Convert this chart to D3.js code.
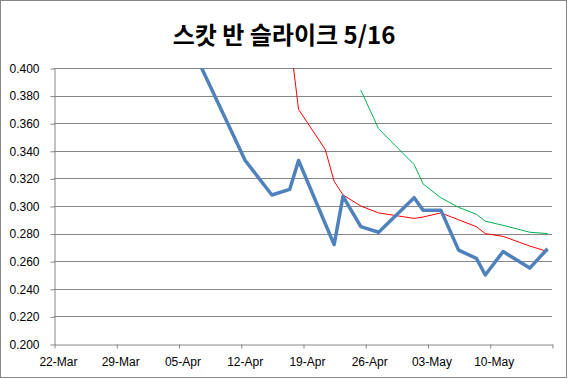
<!DOCTYPE html>
<html>
<head>
<meta charset="utf-8">
<script src="https://cdn.jsdelivr.net/npm/d3@7"></script>
<style>
  body { margin: 0; background: #fff; }
  text { font-family: "Liberation Sans", Arial, sans-serif; }
</style>
</head>
<body>
<svg id="chart" width="568" height="379"></svg>
<script>
// game dates (2016) and the three running averages
const dates = ["2016-04-06", "2016-04-12", "2016-04-15", "2016-04-17", "2016-04-18", "2016-04-21",
  "2016-04-22", "2016-04-23", "2016-04-25", "2016-04-27", "2016-05-01", "2016-05-02", "2016-05-04",
  "2016-05-06", "2016-05-08", "2016-05-09", "2016-05-11", "2016-05-14", "2016-05-16"];
const blueValues = [0.415, 0.333, 0.308, 0.312, 0.333, null, 0.272, 0.307, 0.285, 0.281, 0.306,
  0.297, 0.297, 0.268, 0.262, 0.250, 0.267, 0.255, 0.269];
const redValues = [null, null, null, 0.423, 0.370, 0.341, 0.318, 0.308, 0.300, 0.295, 0.291,
  0.292, 0.295, 0.290, 0.285, 0.280, 0.278, 0.271, 0.267];
const greenValues = [null, null, null, null, null, null, null, null, 0.384, 0.356, 0.330,
  0.316, 0.306, 0.299, 0.294, 0.289, 0.286, 0.281, 0.280];
const tickDates = ["2016-03-22", "2016-03-29", "2016-04-05", "2016-04-12", "2016-04-19",
  "2016-04-26", "2016-05-03", "2016-05-10", "2016-05-17"];
const yTicks = [0.200, 0.220, 0.240, 0.260, 0.280, 0.300, 0.320, 0.340, 0.360, 0.380, 0.400];
const title = "스캇 반 슬라이크 5/16";

const parse = d3.utcParse("%Y-%m-%d");
const fmt = d3.utcFormat("%d-%b");
const svg = d3.select("#chart");
const W = 568, H = 379;
const plotL = 54, plotR = 552, plotT = 68, plotB = 344;

// outer chart border
svg.append("rect")
    .attr("x", 0.5).attr("y", 0.5)
    .attr("width", W - 2).attr("height", H - 2)
    .attr("fill", "#fff")
    .attr("stroke", "#868686");

svg.append("text")
    .attr("x", 284).attr("y", 44)
    .attr("text-anchor", "middle")
    .style("font-family", "'Noto Sans CJK KR', sans-serif")
    .style("font-weight", "bold")
    .style("font-size", "24px")
    .text(title);

const x = d3.scaleUtc()
    .domain([parse(tickDates[0]), parse(tickDates[tickDates.length - 1])])
    .range([plotL, plotR]);
const y = d3.scaleLinear().domain([0.2, 0.4]).range([plotB, plotT]);

// gridlines
svg.append("g")
  .selectAll("line")
  .data(yTicks.slice(1))
  .join("line")
    .attr("x1", plotL).attr("x2", plotR)
    .attr("y1", d => Math.round(y(d)) + 0.5).attr("y2", d => Math.round(y(d)) + 0.5)
    .attr("stroke", "#868686");

// y axis
const yAxis = svg.append("g")
    .attr("transform", "translate(" + (plotL + 0.5) + ",0.5)")
    .call(d3.axisLeft(y).tickValues(yTicks).tickFormat(d3.format(".3f")).tickSizeInner(4).tickSizeOuter(0).tickPadding(11));
yAxis.select(".domain").attr("stroke", "#868686");
yAxis.selectAll(".tick line").attr("stroke", "#868686");
yAxis.selectAll("text").attr("fill", "#000").style("font-size", "12px");

// x axis, labels sit at the middle of the day slot
const xAxis = svg.append("g")
    .attr("transform", "translate(0.5," + (plotB + 0.5) + ")")
    .call(d3.axisBottom(x).tickValues(tickDates.map(parse)).tickFormat("").tickSizeInner(4).tickSizeOuter(0));
xAxis.select(".domain").attr("stroke", "#868686");
xAxis.selectAll(".tick line").attr("stroke", "#868686");

svg.append("g")
  .selectAll("text")
  .data(tickDates.slice(0, -1))
  .join("text")
    .attr("x", d => x(d3.utcHour.offset(parse(d), 12)))
    .attr("y", 366)
    .attr("text-anchor", "middle")
    .style("font-size", "12px")
    .text(d => fmt(parse(d)));

svg.append("clipPath").attr("id", "plotClip")
  .append("rect")
    .attr("x", plotL).attr("y", plotT)
    .attr("width", plotR - plotL).attr("height", plotB - plotT);

const line = d3.line()
    .x(d => x(d3.utcHour.offset(parse(d.date), 12)))
    .y(d => y(d.value));

function series(values) {
  return dates.map((date, i) => ({date: date, value: values[i]})).filter(d => d.value !== null);
}

const plot = svg.append("g").attr("clip-path", "url(#plotClip)");

plot.append("path")
    .datum(series(greenValues))
    .attr("fill", "none")
    .attr("stroke", "#00B050")
    .attr("stroke-width", 1)
    .attr("d", line);

plot.append("path")
    .datum(series(redValues))
    .attr("fill", "none")
    .attr("stroke", "#FF0000")
    .attr("stroke-width", 1)
    .attr("d", line);

plot.append("path")
    .datum(series(blueValues))
    .attr("fill", "none")
    .attr("stroke", "#4F81BD")
    .attr("stroke-width", 3.5)
    .attr("stroke-linejoin", "round")
    .attr("d", line);
</script>
</body>
</html>
